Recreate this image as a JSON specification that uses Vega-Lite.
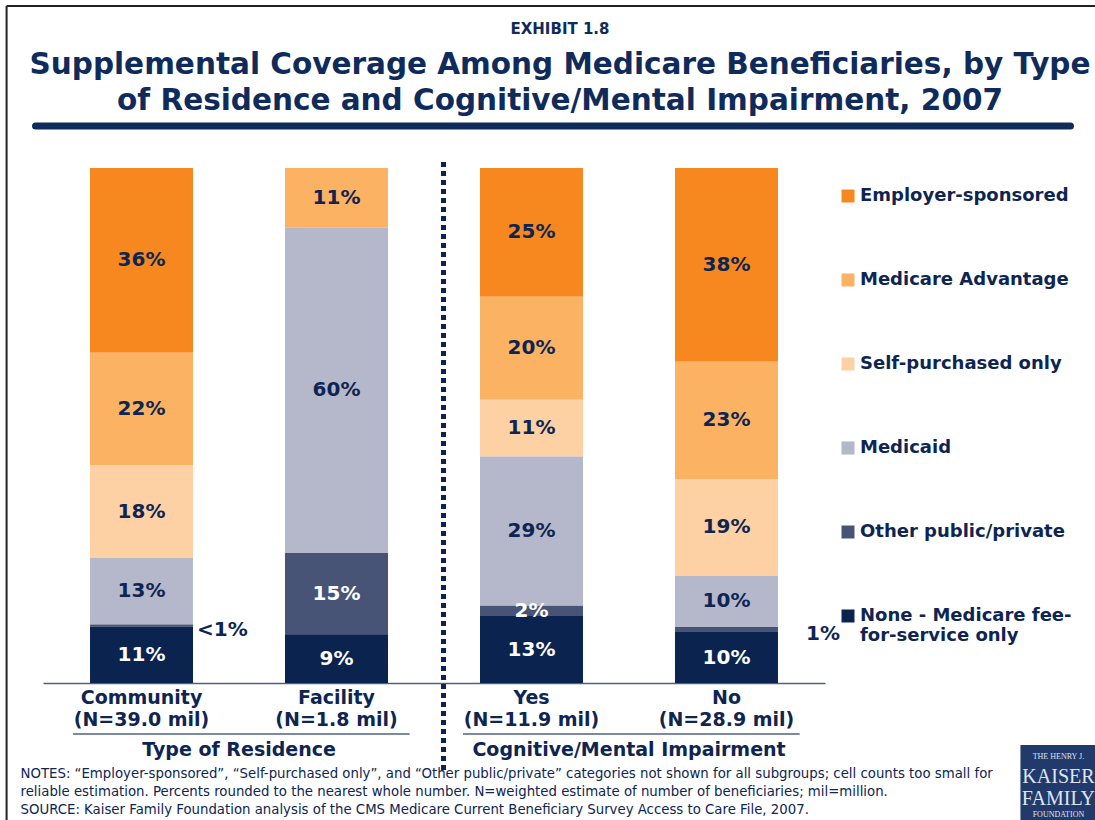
{
  "$schema": "https://vega.github.io/schema/vega-lite/v6.json",
  "autosize": "none",
  "width": 782,
  "height": 515,
  "padding": {"left": 43, "top": 168, "right": 270, "bottom": 137},
  "background": "white",
  "config": {"font": "DejaVu Sans", "view": {"stroke": null}},
  "title": {
    "text": "EXHIBIT 1.8",
    "subtitle": ["Supplemental Coverage Among Medicare Beneficiaries, by Type", "of Residence and Cognitive/Mental Impairment, 2007"],
    "anchor": "middle",
    "frame": "group",
    "dx": 126,
    "offset": -111,
    "font": "DejaVu Sans",
    "fontSize": 15,
    "fontWeight": "bold",
    "color": "#0f2b5b",
    "subtitleFont": "DejaVu Sans",
    "subtitleFontSize": 29.5,
    "subtitleFontWeight": "bold",
    "subtitleColor": "#0f2b5b",
    "subtitleLineHeight": 36,
    "subtitlePadding": 14
  },
  "data": {
    "values": [
      {"subgroup": "Community (N=39.0 mil)", "category": "Employer-sponsored", "pct": 36, "label": "36%"},
      {"subgroup": "Community (N=39.0 mil)", "category": "Medicare Advantage", "pct": 22, "label": "22%"},
      {"subgroup": "Community (N=39.0 mil)", "category": "Self-purchased only", "pct": 18, "label": "18%"},
      {"subgroup": "Community (N=39.0 mil)", "category": "Medicaid", "pct": 13, "label": "13%"},
      {"subgroup": "Community (N=39.0 mil)", "category": "Other public/private", "pct": 0.4, "label": "<1%"},
      {"subgroup": "Community (N=39.0 mil)", "category": "None - Medicare fee-for-service only", "pct": 11, "label": "11%"},
      {"subgroup": "Facility (N=1.8 mil)", "category": "Medicare Advantage", "pct": 11, "label": "11%"},
      {"subgroup": "Facility (N=1.8 mil)", "category": "Medicaid", "pct": 60, "label": "60%"},
      {"subgroup": "Facility (N=1.8 mil)", "category": "Other public/private", "pct": 15, "label": "15%"},
      {"subgroup": "Facility (N=1.8 mil)", "category": "None - Medicare fee-for-service only", "pct": 9, "label": "9%"},
      {"subgroup": "Yes (N=11.9 mil)", "category": "Employer-sponsored", "pct": 25, "label": "25%"},
      {"subgroup": "Yes (N=11.9 mil)", "category": "Medicare Advantage", "pct": 20, "label": "20%"},
      {"subgroup": "Yes (N=11.9 mil)", "category": "Self-purchased only", "pct": 11, "label": "11%"},
      {"subgroup": "Yes (N=11.9 mil)", "category": "Medicaid", "pct": 29, "label": "29%"},
      {"subgroup": "Yes (N=11.9 mil)", "category": "Other public/private", "pct": 2, "label": "2%"},
      {"subgroup": "Yes (N=11.9 mil)", "category": "None - Medicare fee-for-service only", "pct": 13, "label": "13%"},
      {"subgroup": "No (N=28.9 mil)", "category": "Employer-sponsored", "pct": 38, "label": "38%"},
      {"subgroup": "No (N=28.9 mil)", "category": "Medicare Advantage", "pct": 23, "label": "23%"},
      {"subgroup": "No (N=28.9 mil)", "category": "Self-purchased only", "pct": 19, "label": "19%"},
      {"subgroup": "No (N=28.9 mil)", "category": "Medicaid", "pct": 10, "label": "10%"},
      {"subgroup": "No (N=28.9 mil)", "category": "Other public/private", "pct": 1, "label": "1%"},
      {"subgroup": "No (N=28.9 mil)", "category": "None - Medicare fee-for-service only", "pct": 10, "label": "10%"}
    ]
  },
  "transform": [
    {"calculate": "indexof(['None - Medicare fee-for-service only', 'Other public/private', 'Medicaid', 'Self-purchased only', 'Medicare Advantage', 'Employer-sponsored'], datum.category)", "as": "stackOrder"}
  ],
  "layer": [
    {
      "mark": {"type": "bar"},
      "encoding": {
        "x": {
          "field": "subgroup",
          "type": "nominal",
          "scale": {"domain": ["Community (N=39.0 mil)", "Facility (N=1.8 mil)", "Yes (N=11.9 mil)", "No (N=28.9 mil)"], "paddingInner": 0.4718, "paddingOuter": 0.2411},
          "axis": {
            "labelAngle": 0,
            "ticks": false,
            "domainColor": "#4f6088",
            "domainWidth": 1.5,
            "labelFont": "DejaVu Sans",
            "labelFontWeight": "bold",
            "labelFontSize": 19,
            "labelColor": "#0e2552",
            "labelPadding": 5,
            "labelLineHeight": 22,
            "labelExpr": "[split(datum.value, ' (')[0], '(' + split(datum.value, ' (')[1]]",
            "title": ["NOTES: “Employer-sponsored”, “Self-purchased only”, and “Other public/private” categories not shown for all subgroups; cell counts too small for", "reliable estimation. Percents rounded to the nearest whole number. N=weighted estimate of number of beneficiaries; mil=million.", "SOURCE: Kaiser Family Foundation analysis of the CMS Medicare Current Beneficiary Survey Access to Care File, 2007."],
            "titleFont": "DejaVu Sans",
            "titleFontSize": 13.3,
            "titleFontWeight": "normal",
            "titleColor": "#0e2552",
            "titleAnchor": "start",
            "titleAlign": "left",
            "titleBaseline": "top",
            "titleX": -23,
            "titleY": 83,
            "titleLineHeight": 18
          }
        },
        "y": {"field": "pct", "type": "quantitative", "stack": "normalize", "scale": {"domain": [0, 1], "nice": false}, "axis": null},
        "order": {"field": "stackOrder", "type": "quantitative"},
        "color": {
          "field": "category",
          "type": "nominal",
          "scale": {
            "domain": ["Employer-sponsored", "Medicare Advantage", "Self-purchased only", "Medicaid", "Other public/private", "None - Medicare fee-for-service only"],
            "range": ["#f7881f", "#fbb262", "#fdd1a3", "#b5b8ca", "#475476", "#0a234f"]
          },
          "legend": {
            "title": null,
            "orient": "none",
            "legendX": 796,
            "legendY": 19,
            "direction": "vertical",
            "symbolType": "square",
            "symbolSize": 169,
            "symbolStrokeWidth": 0,
            "labelFont": "DejaVu Sans",
            "labelFontWeight": "bold",
            "labelFontSize": 18,
            "labelColor": "#0e2552",
            "labelLimit": 300,
            "labelOffset": 3,
            "rowPadding": 66,
            "labelExpr": "datum.label == 'None - Medicare fee-for-service only' ? ['None - Medicare fee-', 'for-service only'] : datum.label"
          }
        }
      }
    },
    {
      "mark": {"type": "text", "font": "DejaVu Sans", "fontSize": 20, "fontWeight": "bold", "baseline": "middle"},
      "encoding": {
        "x": {"field": "subgroup", "type": "nominal"},
        "y": {"field": "pct", "type": "quantitative", "stack": "normalize", "bandPosition": 0.5},
        "order": {"field": "stackOrder", "type": "quantitative"},
        "color": {"field": "category", "type": "nominal"},
        "fill": {"condition": {"test": "datum.category === 'Other public/private' || datum.category === 'None - Medicare fee-for-service only'", "value": "#ffffff"}, "value": "#0e2552"},
        "text": {"condition": {"test": "datum.pct < 1.5", "value": ""}, "field": "label"}
      }
    },
    {
      "mark": {"type": "text", "font": "DejaVu Sans", "fontSize": 20, "fontWeight": "bold", "baseline": "middle", "align": "left", "dx": 4, "dy": 4},
      "encoding": {
        "x": {"field": "subgroup", "type": "nominal", "bandPosition": 1},
        "y": {"field": "pct", "type": "quantitative", "stack": "normalize", "bandPosition": 0.5},
        "order": {"field": "stackOrder", "type": "quantitative"},
        "color": {"field": "category", "type": "nominal"},
        "fill": {"value": "#0e2552"},
        "text": {"condition": {"test": "datum.label === '<1%'", "field": "label"}, "value": ""}
      }
    },
    {
      "mark": {"type": "text", "font": "DejaVu Sans", "fontSize": 20, "fontWeight": "bold", "baseline": "middle", "align": "left", "dx": 28, "dy": 5},
      "encoding": {
        "x": {"field": "subgroup", "type": "nominal", "bandPosition": 1},
        "y": {"field": "pct", "type": "quantitative", "stack": "normalize", "bandPosition": 0.5},
        "order": {"field": "stackOrder", "type": "quantitative"},
        "color": {"field": "category", "type": "nominal"},
        "fill": {"value": "#0e2552"},
        "text": {"condition": {"test": "datum.label === '1%'", "field": "label"}, "value": ""}
      }
    },
    {
      "data": {"values": [{}]},
      "mark": {"type": "rule", "color": "#0c2350", "strokeWidth": 5, "strokeDash": [5, 4]},
      "encoding": {
        "x": {"datum": "Facility (N=1.8 mil)", "bandPosition": 1.539},
        "y": {"datum": 1.0117, "type": "quantitative"},
        "y2": {"datum": -0.169}
      }
    },
    {
      "data": {"values": [{}]},
      "mark": {"type": "rule", "color": "#0f2b5b", "strokeWidth": 7, "strokeCap": "round"},
      "encoding": {
        "x": {"datum": "Community (N=39.0 mil)", "bandPosition": -0.529},
        "x2": {"datum": "No (N=28.9 mil)", "bandPosition": 3.84},
        "y": {"datum": 1.0816, "type": "quantitative"}
      }
    },
    {
      "data": {"values": [
        {"group": "Type of Residence", "first": "Community (N=39.0 mil)", "last": "Facility (N=1.8 mil)"},
        {"group": "Cognitive/Mental Impairment", "first": "Yes (N=11.9 mil)", "last": "No (N=28.9 mil)"}
      ]},
      "layer": [
        {
          "mark": {"type": "rule", "color": "#4f6088", "strokeWidth": 1.5},
          "encoding": {
            "x": {"field": "first", "type": "nominal", "bandPosition": -0.165},
            "x2": {"field": "last", "bandPosition": 1.21},
            "y": {"datum": -0.099, "type": "quantitative"}
          }
        },
        {
          "mark": {"type": "text", "font": "DejaVu Sans", "fontSize": 19, "fontWeight": "bold", "color": "#0e2552", "baseline": "middle"},
          "encoding": {
            "x": {"field": "first", "type": "nominal", "bandPosition": 1.447},
            "y": {"datum": -0.13, "type": "quantitative"},
            "text": {"field": "group"}
          }
        }
      ]
    },
    {
      "data": {"values": [{}]},
      "layer": [
        {
          "mark": {"type": "rect", "color": "#22396b"},
          "encoding": {
            "x": {"datum": "No (N=28.9 mil)", "bandPosition": 3.354},
            "x2": {"datum": "No (N=28.9 mil)", "bandPosition": 4.1},
            "y": {"datum": -0.1204, "type": "quantitative"},
            "y2": {"datum": -0.27}
          }
        },
        {
          "mark": {"type": "text", "font": "Liberation Serif", "fontSize": 8, "color": "#dfe4ee", "baseline": "middle", "text": "THE HENRY J."},
          "encoding": {
            "x": {"datum": "No (N=28.9 mil)", "bandPosition": 3.723},
            "y": {"datum": -0.1437, "type": "quantitative"}
          }
        },
        {
          "mark": {"type": "text", "font": "Liberation Serif", "fontSize": 20, "color": "#dfe4ee", "baseline": "middle", "text": "KAISER"},
          "encoding": {
            "x": {"datum": "No (N=28.9 mil)", "bandPosition": 3.723},
            "y": {"datum": -0.1825, "type": "quantitative"}
          }
        },
        {
          "mark": {"type": "text", "font": "Liberation Serif", "fontSize": 20, "color": "#dfe4ee", "baseline": "middle", "text": "FAMILY"},
          "encoding": {
            "x": {"datum": "No (N=28.9 mil)", "bandPosition": 3.723},
            "y": {"datum": -0.2252, "type": "quantitative"}
          }
        },
        {
          "mark": {"type": "text", "font": "Liberation Serif", "fontSize": 8, "color": "#dfe4ee", "baseline": "middle", "text": "FOUNDATION"},
          "encoding": {
            "x": {"datum": "No (N=28.9 mil)", "bandPosition": 3.723},
            "y": {"datum": -0.2563, "type": "quantitative"}
          }
        }
      ]
    },
    {
      "data": {"values": [{}]},
      "layer": [
        {
          "mark": {"type": "rule", "color": "#222222", "strokeWidth": 2},
          "encoding": {
            "x": {"datum": "Community (N=39.0 mil)", "bandPosition": -0.81},
            "x2": {"datum": "No (N=28.9 mil)", "bandPosition": 4.1},
            "y": {"datum": 1.3146, "type": "quantitative"}
          }
        },
        {
          "mark": {"type": "rule", "color": "#222222", "strokeWidth": 2},
          "encoding": {
            "x": {"datum": "Community (N=39.0 mil)", "bandPosition": -0.81},
            "y": {"datum": 1.3146, "type": "quantitative"},
            "y2": {"datum": -0.27}
          }
        }
      ]
    }
  ]
}
